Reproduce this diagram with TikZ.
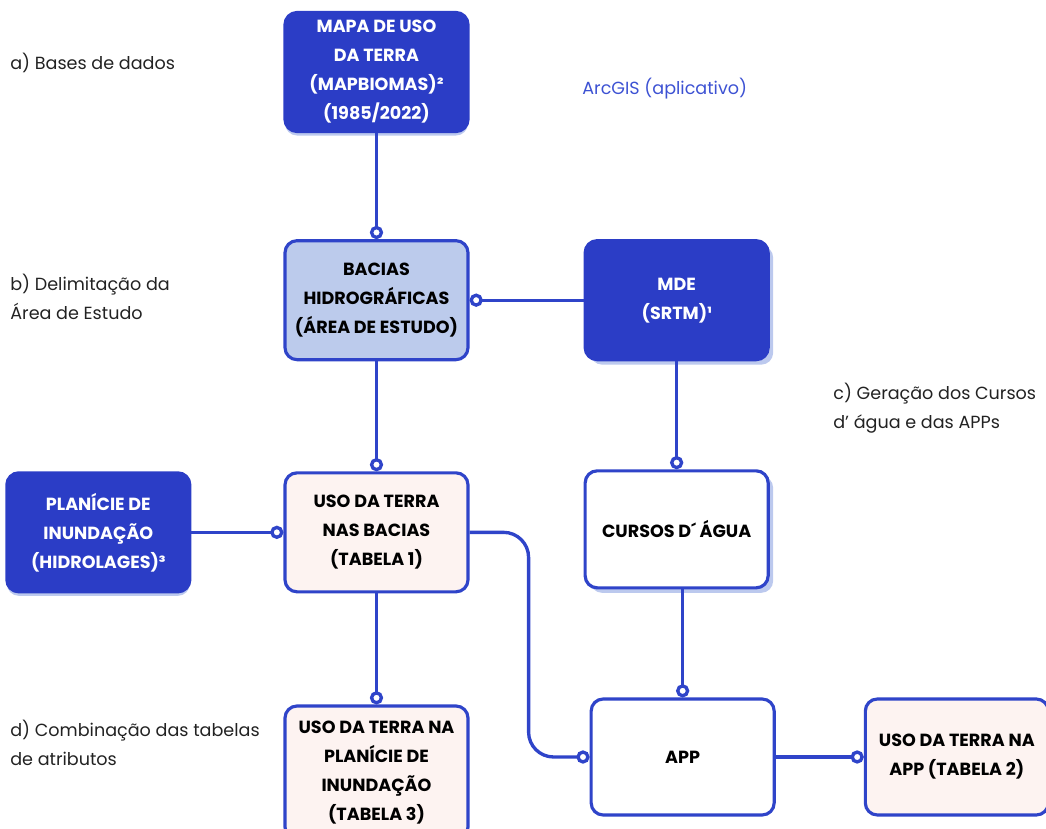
\documentclass[tikz,border=0pt]{standalone}
\usepackage{fontspec}
\setmainfont{Poppins}
\usetikzlibrary{arrows.meta,positioning,shadows}

\definecolor{azulesc}{HTML}{2B3DC6}
\definecolor{borda}{HTML}{2F44C9}
\definecolor{azulclaro}{HTML}{BCCBEC}
\definecolor{rosaclaro}{HTML}{FDF3F1}
\definecolor{sombraazul}{HTML}{BCC9EE}
\definecolor{texto}{HTML}{222222}
\definecolor{arcgis}{HTML}{3D52D3}

\begin{document}
\begin{tikzpicture}[
  caixa/.style={draw=borda, line width=1.8pt, rounded corners=0.24cm, align=center,
    minimum width=3.66cm, minimum height=2.38cm, inner sep=2pt,
    font=\fontsize{10}{16.5}\selectfont\bfseries},
  escura/.style={caixa, fill=azulesc, draw=azulesc, text=white},
  clara/.style={caixa, fill=azulclaro},
  rosa/.style={caixa, fill=rosaclaro},
  branca/.style={caixa, fill=white},
  sombra/.style={drop shadow={shadow xshift=0.1cm, shadow yshift=-0.1cm, fill=sombraazul, opacity=1}},
  sombrab/.style={drop shadow={shadow xshift=0cm, shadow yshift=-0.08cm, fill=sombraazul, opacity=1}},
  lig/.style={draw=borda, line width=1.9pt, -{Circle[fill=white, length=7.5pt, width=7.5pt]}},
  rot/.style={anchor=west, align=left, inner sep=0pt, text=texto,
    font=\fontsize{10}{16.5}\selectfont}
]
\useasboundingbox (0,0) rectangle (20.92,-16.56);

% caixas
\node[escura, sombrab] (mapa) at (7.53,-1.44) {MAPA DE USO\\DA TERRA\\(MAPBIOMAS)²\\(1985/2022)};
\node[clara, below=2.12cm of mapa] (bacias) {BACIAS\\HIDROGRÁFICAS\\(ÁREA DE ESTUDO)};
\node[escura, sombra, right=2.28cm of bacias] (mde) {MDE\\(SRTM)¹};
\node[rosa, below=2.2cm of bacias] (uso1) {USO DA TERRA\\NAS BACIAS\\(TABELA 1)};
\node[escura, sombrab, left=1.84cm of uso1] (plan) {PLANÍCIE DE\\INUNDAÇÃO\\(HIDROLAGES)³};
\node[branca, sombra, below=2.16cm of mde, minimum height=2.34cm] (cursos) {CURSOS D´ ÁGUA};
\node[rosa, below=2.22cm of uso1, minimum height=2.66cm] (uso3) {USO DA TERRA NA\\PLANÍCIE DE\\INUNDAÇÃO\\(TABELA 3)};
\node[branca, below=2.16cm of cursos, xshift=0.12cm, minimum height=2.32cm] (app) {APP};
\node[rosa, right=1.76cm of app, minimum height=2.32cm] (uso2) {USO DA TERRA NA\\APP (TABELA 2)};

% ligacoes
\draw[lig] (mapa) -- (bacias);
\draw[lig] (mde) -- (bacias);
\draw[lig] (bacias) -- (uso1);
\draw[lig] (mde) -- (cursos);
\draw[lig] (plan) -- (uso1);
\draw[lig] (uso1) -- (uso3);
\draw[lig] (cursos.south -| app.north) -- (app);
\draw[lig, rounded corners=0.5cm] (uso1.east) -- ++(1.18,0) |- (app.west);
\draw[lig] (app) -- (uso2);

% etapas
\node[rot] (a) at (0.2,-1.26) {a) Bases de dados};
\node[rot, text=arcgis] (arc) at (11.64,-1.78) {ArcGIS (aplicativo)};
\node[rot] (b) at (0.2,-5.93) {b) Delimitação da\\Área de Estudo};
\node[rot] (c) at (16.66,-8.16) {c) Geração dos Cursos\\d’ água e das APPs};
\node[rot] (d) at (0.2,-14.86) {d) Combinação das tabelas\\de atributos};
\end{tikzpicture}
\end{document}
